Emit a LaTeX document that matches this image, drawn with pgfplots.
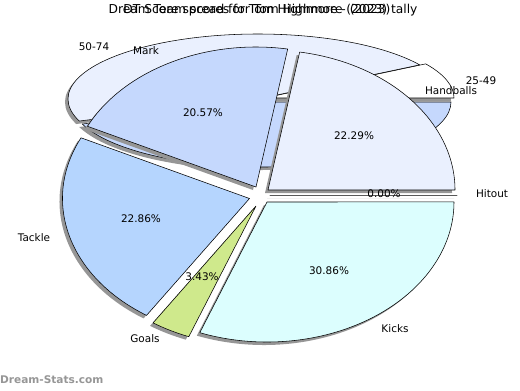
\documentclass[border=0pt]{standalone}
\usepackage{pgfplots}
\usepackage{pgfplotstable}
\pgfplotsset{compat=1.18}
\usepackage{fontspec}
\setmainfont{DejaVu Sans}
\definecolor{cHand}{RGB}{234,240,254}
\definecolor{cMark}{RGB}{197,216,253}
\definecolor{cTack}{RGB}{181,213,254}
\definecolor{cGoal}{RGB}{207,233,140}
\definecolor{cKick}{RGB}{220,254,254}
\definecolor{cWhite}{RGB}{255,255,255}
\definecolor{cShadow}{RGB}{150,150,150}
\definecolor{cWater}{RGB}{150,150,150}

% front pie: DT score spread (percent of DT points by stat)
\pgfplotstableread{
name      value  dx    dy   col
Hitout    0.00   8     0    cHand
Handballs 22.29  6    -5    cHand
Mark      20.57 -6    -8    cMark
Tackle    22.86 -12.5  3.5  cTack
Goals     3.43  -6    11    cGoal
Kicks     30.86  5     7    cKick
}\front

% back pie: score ranges tally (percent of games)
\pgfplotstableread{
name   value  dx  dy  col
25-49  8.8    4  -2   cWhite
50-74  46.7  -2  -1   cHand
75-99  44.5   1   2   cMark
}\back

% #1 table, #2 cx, #3 cy, #4 x radius, #5 y radius, #6 mode (0 = shadow, 1 = slice)
\newcommand\drawpie[6]{%
  \pgfplotstablegetrowsof{#1}%
  \pgfmathtruncatemacro\nr{\pgfplotsretval-1}%
  \gdef\cum{0}%
  \pgfplotsforeachungrouped \i in {0,...,\nr}{%
    \pgfplotstablegetelem{\i}{value}\of{#1}\let\v\pgfplotsretval
    \pgfplotstablegetelem{\i}{dx}\of{#1}\let\dx\pgfplotsretval
    \pgfplotstablegetelem{\i}{dy}\of{#1}\let\dy\pgfplotsretval
    \pgfplotstablegetelem{\i}{col}\of{#1}\let\col\pgfplotsretval
    \pgfmathsetmacro\sa{\cum*3.6}%
    \pgfmathsetmacro\newcum{\cum+\v}%
    \pgfmathsetmacro\ea{\newcum*3.6}%
    \ifnum#6=0
      \pgfmathsetmacro\px{#2+\dx-3}\pgfmathsetmacro\py{#3+\dy+3}%
      \edef\cmd{\noexpand\fill[cShadow] (axis cs:\px,\py) -- ++(\sa:#4bp and #5bp)
        arc[start angle=\sa, end angle=\ea, x radius=#4bp, y radius=#5bp] -- cycle;}%
    \else
      \pgfmathsetmacro\px{#2+\dx}\pgfmathsetmacro\py{#3+\dy}%
      \edef\cmd{\noexpand\filldraw[fill=\col, draw=black, line width=0.55pt, line join=round] (axis cs:\px,\py) -- ++(\sa:#4bp and #5bp)
        arc[start angle=\sa, end angle=\ea, x radius=#4bp, y radius=#5bp] -- cycle;}%
    \fi
    \cmd
    \xdef\cum{\newcum}%
  }%
}

\begin{document}
\begin{tikzpicture}
\begin{axis}[
  scale only axis, width=520bp, height=390bp,
  xmin=0, xmax=520, ymin=0, ymax=390, y dir=reverse,
  hide axis, clip=false]
\path (axis cs:0,0) rectangle (axis cs:520,390);
% back pie
\drawpie{\back}{260}{100}{190}{65}{0}
\drawpie{\back}{260}{100}{190}{65}{1}
% front pie
\drawpie{\front}{262}{195}{187}{140}{0}
\drawpie{\front}{262}{195}{187}{140}{1}

\begin{scope}[every node/.style={font=\fontsize{10.5}{12}\selectfont, inner sep=0pt}]
\node at (axis cs:94,47) {50-74};
\node at (axis cs:481,81) {25-49};
\node at (axis cs:146,51) {Mark};
\node at (axis cs:451,91) {Handballs};
\node at (axis cs:492,194) {Hitout};
\node at (axis cs:34,238) {Tackle};
\node at (axis cs:145,339) {Goals};
\node at (axis cs:395,329) {Kicks};
\node at (axis cs:203,113) {20.57\%};
\node at (axis cs:354,136) {22.29\%};
\node at (axis cs:384,194) {0.00\%};
\node at (axis cs:141,219) {22.86\%};
\node at (axis cs:202,277) {3.43\%};
\node at (axis cs:329,271) {30.86\%};
\end{scope}
\node[font=\fontsize{12.3}{14}\selectfont, inner sep=0pt] at (axis cs:263,10) {Dream Team scores for Tom Highmore (2023) tally};
\node[font=\fontsize{12.3}{14}\selectfont, inner sep=0pt] at (axis cs:257,10) {DT Score spread for Tom Highmore - (2023)};
\node[font=\bfseries\fontsize{10.6}{12}\selectfont, text=cWater, anchor=west, inner sep=0pt] at (axis cs:0,380) {Dream-Stats.com};
\end{axis}
\end{tikzpicture}
\end{document}
